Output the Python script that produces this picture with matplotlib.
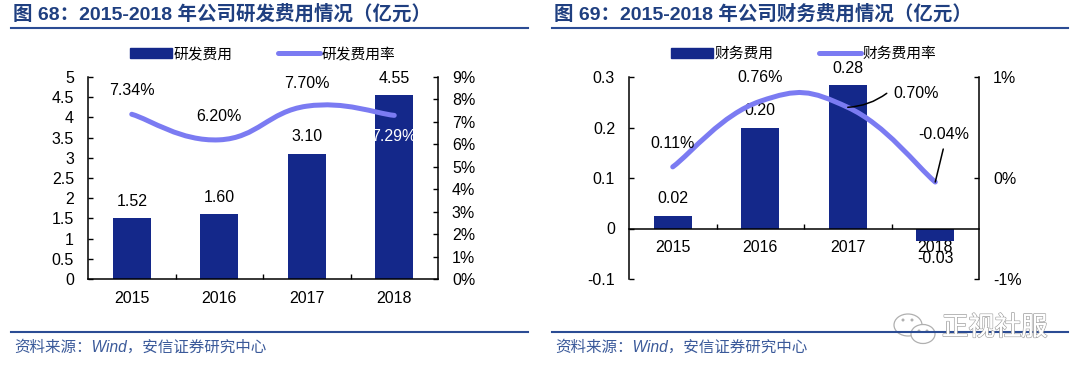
import matplotlib
matplotlib.use("Agg")
import matplotlib.pyplot as plt
import numpy as np
from matplotlib.path import Path
from matplotlib.patches import PathPatch, Ellipse, Rectangle
from matplotlib.lines import Line2D
import matplotlib.patheffects as pe

CJK = ['Liberation Sans', 'Noto Sans CJK SC', 'DejaVu Sans']
plt.rcParams['font.family'] = CJK

W, H = 1080, 375
years = ['2015', '2016', '2017', '2018']

title_a = '图 68\uff1a2015-2018 年公司研发费用情况\uff08亿元\uff09'
title_b = '图 69\uff1a2015-2018 年公司财务费用情况\uff08亿元\uff09'
source = '资料来源\uff1aWind\uff0c安信证券研究中心'

rd_cost = [1.52, 1.60, 3.10, 4.55]
rd_rate = [7.34, 6.20, 7.70, 7.29]
rd_cost_labels = ['1.52', '1.60', '3.10', '4.55']
rd_rate_labels = ['7.34%', '6.20%', '7.70%', '7.29%']
rd_left_ticks = [0, 0.5, 1, 1.5, 2, 2.5, 3, 3.5, 4, 4.5, 5]
rd_left_labels = ['0', '0.5', '1', '1.5', '2', '2.5', '3', '3.5', '4', '4.5', '5']
rd_right_ticks = [0, 1, 2, 3, 4, 5, 6, 7, 8, 9]
rd_right_labels = ['0%', '1%', '2%', '3%', '4%', '5%', '6%', '7%', '8%', '9%']

fin_cost = [0.025, 0.20, 0.285, -0.025]
fin_rate = [0.11, 0.76, 0.70, -0.04]
fin_cost_labels = ['0.02', '0.20', '0.28', '-0.03']
fin_rate_labels = ['0.11%', '0.76%', '0.70%', '-0.04%']
fin_left_ticks = [-0.1, 0, 0.1, 0.2, 0.3]
fin_left_labels = ['-0.1', '0', '0.1', '0.2', '0.3']
fin_right_ticks = [-1, 0, 1]
fin_right_labels = ['-1%', '0%', '1%']

BAR = '#14288A'
LINE = '#7B7BF2'
RULE = '#2B4C94'
TITLE = '#1F3F80'
SRC = '#3B5A9A'
FS = 11.5


def fx(px):
    return px / W


def fy(py):
    return 1 - py / H


fig = plt.figure(figsize=(W / 100, H / 100), dpi=100, facecolor='white')


def smooth(ax, ys, color, tension=0.22):
    xs = np.arange(len(ys), dtype=float)
    ys = np.asarray(ys, dtype=float)
    verts = [(xs[0], ys[0])]
    codes = [Path.MOVETO]
    n = len(ys)
    for i in range(n - 1):
        p0 = i - 1 if i > 0 else i
        p3 = i + 2 if i + 2 < n else i + 1
        c1 = (xs[i] + (xs[i + 1] - xs[p0]) * tension, ys[i] + (ys[i + 1] - ys[p0]) * tension)
        c2 = (xs[i + 1] - (xs[p3] - xs[i]) * tension, ys[i + 1] - (ys[p3] - ys[i]) * tension)
        verts += [c1, c2, (xs[i + 1], ys[i + 1])]
        codes += [Path.CURVE4, Path.CURVE4, Path.CURVE4]
    patch = PathPatch(Path(verts, codes), fill=False, edgecolor=color, lw=3.6, capstyle='round', joinstyle='round')
    ax.add_patch(patch)


def panel(left, right, title, title_x, rule_l, rule_r, cost, lticks, llabels, rticks, rlabels, lname, rname, legend_c, ly):
    top, bottom = 77, 279
    ax = fig.add_axes([fx(left), fy(bottom), fx(right - left), (bottom - top) / H])
    if lticks[0] < 0:
        ax.spines['bottom'].set_position(('data', 0))
    ax.bar(range(4), cost, width=0.435, color=BAR, zorder=2)
    ax.set_xlim(-0.5, 3.5)
    ax.set_ylim(lticks[0], lticks[-1])
    ax.set_yticks(lticks)
    ax.set_yticklabels(llabels, fontsize=FS)
    ax.set_xticks(range(4))
    ax.set_xticklabels(years, fontsize=FS)
    ax.set_xticks([0.5, 1.5, 2.5], minor=True)
    ax.tick_params(axis='x', which='major', length=0, pad=8.5)
    ax.tick_params(axis='x', which='minor', length=3.5, direction='in', width=1)
    ax.tick_params(axis='y', length=3.5, direction='in', width=1, pad=10)
    ax.spines['top'].set_visible(False)
    for s in ('left', 'right', 'bottom'):
        ax.spines[s].set_linewidth(1.1)
    ax2 = ax.twinx()
    ax2.set_ylim(rticks[0], rticks[-1])
    ax2.set_yticks(rticks)
    ax2.set_yticklabels(rlabels, fontsize=FS)
    ax2.tick_params(axis='y', length=3.5, direction='in', width=1, pad=10)
    ax2.spines['top'].set_visible(False)
    for s in ('left', 'right', 'bottom'):
        ax2.spines[s].set_visible(False)
    # header and footer
    fig.text(fx(title_x), fy(14), title, fontsize=14, fontweight='bold', color=TITLE, va='center', ha='left')
    fig.add_artist(Line2D([fx(rule_l), fx(rule_r)], [fy(27.5), fy(27.5)], color=RULE, lw=1.5))
    fig.add_artist(Line2D([fx(rule_l), fx(rule_r)], [fy(331.5), fy(331.5)], color=RULE, lw=1.5))
    fig.text(fx(title_x + 1), fy(347), source, fontsize=11.2, style='italic', color=SRC, va='center', ha='left')
    # legend
    handles = [Rectangle((0, 0), 1, 1, color=BAR), Line2D([0], [0], color=LINE, lw=3.6, solid_capstyle='round')]
    fig.legend(handles, [lname, rname], loc='center', bbox_to_anchor=(fx(legend_c), fy(ly)), ncol=2, frameon=False,
               fontsize=10.6, handlelength=2.8, handleheight=0.72, handletextpad=0.15, columnspacing=3.1,
               borderpad=0, borderaxespad=0)
    return ax, ax2


def lab(ax, i, v, txt, dx, dy, color='black'):
    ax.annotate(txt, xy=(i, v), xytext=(dx, dy), textcoords='offset pixels', ha='center', va='center',
                fontsize=FS, color=color, zorder=6)


# Left panel
a1, a2 = panel(88, 438, title_a, 13, 11, 528, rd_cost, rd_left_ticks, rd_left_labels, rd_right_ticks, rd_right_labels,
               '研发费用', '研发费用率', 263, 54)
smooth(a2, rd_rate, LINE)
for i, (v, t, d) in enumerate(zip(rd_cost, rd_cost_labels, [16, 17, 17, 17])):
    lab(a1, i, v, t, 0, d)
for i, (v, t, d) in enumerate(zip(rd_rate, rd_rate_labels, [24, 23, 23, -21])):
    lab(a2, i, v, t, 0, d, 'white' if i == 3 else 'black')

# Right panel
b1, b2 = panel(629, 979, title_b, 554, 552, 1068, fin_cost, fin_left_ticks, fin_left_labels, fin_right_ticks, fin_right_labels,
               '财务费用', '财务费用率', 804, 54)
smooth(b2, fin_rate, LINE)
for i, (v, t, d) in enumerate(zip(fin_cost, fin_cost_labels, [17, 17, 16, -17])):
    lab(b1, i, v, t, 0, d)
for i, (v, t, dx, dy) in enumerate(zip(fin_rate, fin_rate_labels, [0, 0, 68, 8], [23, 24, 14, 48])):
    lab(b2, i, v, t, dx, dy)
b2.annotate('', xy=(2, fin_rate[2]), xytext=(39, 14), textcoords='offset pixels', zorder=7,
            arrowprops=dict(arrowstyle='-', lw=1.1, color='black', shrinkA=0, shrinkB=0, connectionstyle='arc3,rad=-0.15'))
b2.annotate('', xy=(3, fin_rate[3]), xytext=(8, 33), textcoords='offset pixels', zorder=7,
            arrowprops=dict(arrowstyle='-', lw=1.1, color='black', shrinkA=0, shrinkB=0))

# Watermark
fig.text(fx(942), fy(328), '正视社服', fontsize=19, color='white', va='center', ha='left',
         path_effects=[pe.withStroke(linewidth=1.2, foreground='#A8A8A8'), pe.Normal()], zorder=10)
overlay = fig.add_axes([0, 0, 1, 1], facecolor='none')
overlay.set_xlim(0, W)
overlay.set_ylim(H, 0)
overlay.axis('off')
overlay.add_patch(Ellipse((908, 325), 28, 22, fc='white', ec='#B0B0B0', lw=0.9))
overlay.add_patch(Ellipse((923, 334), 24, 19, fc='white', ec='#B0B0B0', lw=0.9))
for x, y in [(903, 320), (912, 320), (919, 331), (927, 331)]:
    overlay.add_patch(Ellipse((x, y), 3, 3, fc='#B0B0B0', ec='none'))

fig.savefig('out.png', dpi=100)
